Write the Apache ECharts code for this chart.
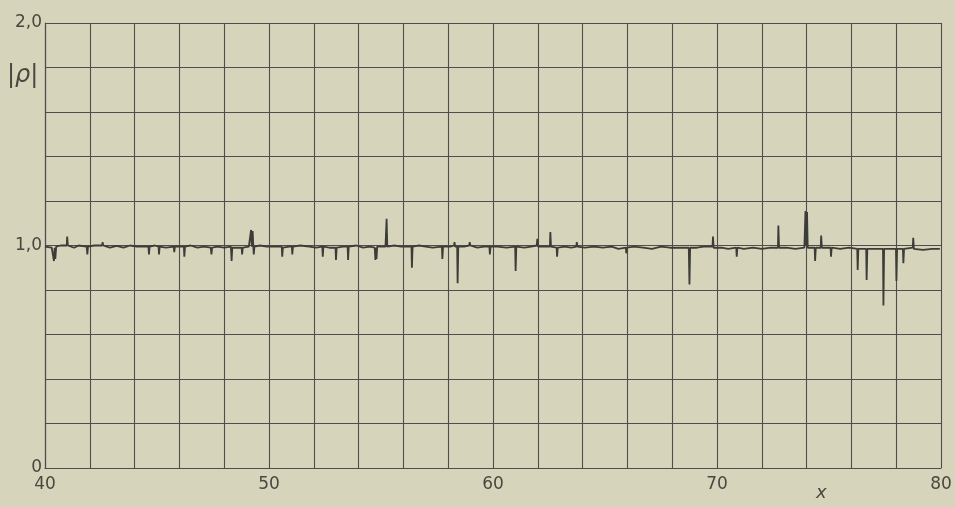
<!DOCTYPE html>
<html>
<head>
<meta charset="utf-8">
<script src="https://cdn.jsdelivr.net/npm/echarts@6/dist/echarts.min.js"></script>
<style>
html,body{margin:0;padding:0;background:#d7d4bc;}
#c{width:955px;height:507px;}
</style>
</head>
<body>
<div id="c"></div>
<script>
// Tick labels
const xTickLabels = [40, 50, 60, 70, 80];
const yTickLabels = {0: '0', 1: '1,0', 2: '2,0'};

// Trace |rho|(x) (x values)
const traceX = [
 40.0, 40.3, 40.38, 40.4, 40.43, 40.46, 40.5, 40.7, 40.97, 40.99, 41.02,
 41.3, 41.5, 41.86, 41.89, 41.92, 42.2, 42.55, 42.57, 42.6,
 42.9, 43.2, 43.5, 43.8, 44.1, 44.62, 44.64, 44.67, 44.9, 45.07, 45.09, 45.12,
 45.4, 45.75, 45.77, 45.8, 46.2, 46.22, 46.25, 46.5, 46.8, 47.1, 47.4, 47.43, 47.46,
 47.7, 48.0, 48.3, 48.33, 48.36, 48.6, 48.78, 48.8, 48.83, 49.1, 49.2, 49.23, 49.27, 49.3, 49.32, 49.35,
 49.6, 49.9, 50.2, 50.57, 50.59, 50.62, 50.9, 51.02, 51.04, 51.07, 51.4, 51.8, 52.1, 52.38, 52.4, 52.43,
 52.7, 52.97, 52.99, 53.02, 53.3, 53.51, 53.53, 53.56, 53.9, 54.2, 54.5, 54.72, 54.75, 54.78, 54.8, 54.83,
 55.2, 55.25, 55.28, 55.6, 55.9, 56.2, 56.36, 56.38, 56.41, 56.7, 57.0, 57.3, 57.72, 57.74, 57.77,
 58.1, 58.26, 58.28, 58.31, 58.4, 58.42, 58.45, 58.7, 58.94, 58.96, 58.99, 59.3, 59.6, 59.84, 59.86, 59.89,
 60.2, 60.6, 60.99, 61.01, 61.04, 61.4, 61.7, 61.95, 61.98, 62.01, 62.54, 62.56, 62.59, 62.84, 62.86, 62.89,
 63.2, 63.5, 63.72, 63.74, 63.77, 64.1, 64.5, 64.9, 65.3, 65.6, 65.93, 65.95, 65.98, 66.3, 66.7, 67.1, 67.5,
 67.9, 68.3, 68.74, 68.77, 68.8, 69.1, 69.4, 69.8, 69.82, 69.85, 70.2, 70.5, 70.86, 70.88, 70.91,
 71.2, 71.6, 72.0, 72.4, 72.72, 72.74, 72.77, 73.1, 73.5, 73.9, 73.95, 73.98, 74.02, 74.05,
 74.36, 74.38, 74.41, 74.63, 74.65, 74.68, 75.07, 75.09, 75.12, 75.5, 75.9, 76.26, 76.28, 76.31,
 76.66, 76.68, 76.71, 77.1, 77.3, 77.41, 77.43, 77.46, 77.7, 77.99, 78.01, 78.04, 78.3, 78.32, 78.35,
 78.74, 78.76, 78.79, 79.2, 79.6, 79.95
];
// Trace |rho| values
const traceY = [
 0.995, 0.99, 0.995, 0.93, 0.99, 0.94, 0.995, 1.0, 1.0, 1.04, 1.0,
 0.99, 1.0, 0.995, 0.96, 0.995, 1.0, 1.0, 1.015, 1.0,
 0.99, 0.998, 0.99, 1.0, 0.995, 0.995, 0.96, 0.995, 1.0, 0.995, 0.96, 0.995,
 0.99, 0.995, 0.97, 0.995, 0.995, 0.95, 0.995, 1.0, 0.99, 0.995, 0.99, 0.96, 0.99,
 0.995, 0.99, 0.995, 0.93, 0.99, 0.99, 0.99, 0.96, 0.99, 0.995, 1.07, 0.995, 1.065, 0.995, 0.96, 0.995,
 1.0, 0.995, 0.995, 0.995, 0.95, 0.99, 0.995, 0.995, 0.96, 0.995, 1.0, 0.995, 0.99, 0.995, 0.95, 0.995,
 0.99, 0.99, 0.935, 0.99, 0.995, 0.995, 0.935, 0.995, 1.0, 0.99, 0.995, 0.99, 0.935, 0.99, 0.94, 0.995,
 0.995, 1.12, 0.995, 1.0, 0.995, 0.995, 0.995, 0.90, 0.995, 1.0, 0.995, 0.99, 0.995, 0.94, 0.995,
 0.995, 1.0, 1.015, 0.995, 0.995, 0.83, 0.995, 0.995, 1.0, 1.015, 1.0, 0.99, 0.995, 0.995, 0.96, 0.995,
 0.995, 0.99, 0.995, 0.885, 0.995, 0.99, 0.995, 1.0, 1.03, 0.995, 0.995, 1.06, 0.995, 0.99, 0.95, 0.99,
 0.995, 0.99, 0.995, 1.015, 0.995, 0.99, 0.995, 0.99, 0.995, 0.985, 0.99, 0.965, 0.99, 0.995, 0.99, 0.985, 0.995,
 0.99, 0.99, 0.99, 0.825, 0.99, 0.99, 0.995, 0.995, 1.04, 0.99, 0.99, 0.985, 0.99, 0.95, 0.99,
 0.985, 0.99, 0.985, 0.99, 0.99, 1.09, 0.99, 0.99, 0.985, 0.99, 1.155, 1.0, 1.15, 0.99,
 0.99, 0.93, 0.99, 0.99, 1.045, 0.99, 0.99, 0.95, 0.99, 0.985, 0.99, 0.985, 0.89, 0.985,
 0.985, 0.845, 0.985, 0.985, 0.985, 0.985, 0.73, 0.985, 0.985, 0.985, 0.84, 0.985, 0.985, 0.92, 0.985,
 0.99, 1.035, 0.985, 0.98, 0.985, 0.985
];

const ink = '#3c3c38';
const gridInk = '#4e4e4a';
const fontFam = '"DejaVu Sans", "Liberation Sans", sans-serif';

const chart = echarts.init(document.getElementById('c'), null, {renderer: 'canvas'});
chart.setOption({
  backgroundColor: '#d7d4bc',
  animation: false,
  grid: {left: 45, right: 14, top: 23, bottom: 39, containLabel: false},
  xAxis: {
    type: 'value', min: 40, max: 80, interval: 2,
    axisLine: {show: true, lineStyle: {color: gridInk, width: 1.2}},
    axisTick: {show: false},
    splitLine: {show: true, lineStyle: {color: gridInk, width: 1.1}},
    axisLabel: {
      margin: 8, color: '#48483f', fontFamily: fontFam, fontSize: 17,
      formatter: v => xTickLabels.includes(v) ? String(v) : ''
    }
  },
  yAxis: {
    type: 'value', min: 0, max: 2, interval: 0.2,
    axisLine: {show: true, lineStyle: {color: gridInk, width: 1.2}},
    axisTick: {show: false},
    splitLine: {show: true, lineStyle: {color: gridInk, width: 1.1}},
    axisLabel: {
      margin: 3, color: '#48483f', fontFamily: fontFam, fontSize: 17,
      formatter: v => {
        const k = Math.round(v * 10) / 10;
        return (k in yTickLabels) && Math.abs(k - Math.round(k)) < 1e-9 ? yTickLabels[Math.round(k)] : '';
      }
    }
  },
  graphic: [
    {type: 'text', left: 7, top: 64, style: {text: '|ρ|', fontFamily: fontFam, fontSize: 24, fontStyle: 'italic', fill: '#48483f'}},
    {type: 'text', left: 816, top: 484, style: {text: 'x', fontFamily: fontFam, fontSize: 18, fontStyle: 'italic', fill: '#48483f'}}
  ],
  series: [{
    type: 'line',
    data: traceX.map((x, i) => [x, traceY[i]]),
    showSymbol: false,
    lineStyle: {color: ink, width: 1.8},
    silent: true
  }]
});
</script>
</body>
</html>
